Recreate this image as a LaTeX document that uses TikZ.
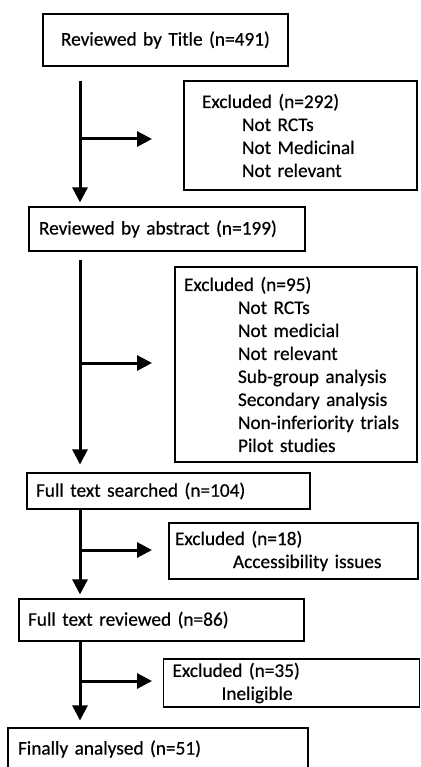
\documentclass[tikz,border=0pt]{standalone}
\usepackage{fontspec}
\setmainfont[FakeBold=0.5]{Carlito}
\usetikzlibrary{arrows.meta, positioning}

\begin{document}
\begin{tikzpicture}[x=1pt,y=-1pt]
  \tikzstyle{stage}=[draw,line width=1.2pt,align=left,inner ysep=0pt,font=\fontsize{19.3}{23}\selectfont]
  \tikzstyle{flow}=[line width=3pt,-{Triangle[length=15pt,width=15pt]}]

  \useasboundingbox (0,0) rectangle (420,767);

  % main stages
  \node[stage,minimum height=52pt,inner xsep=18pt,text width=209pt] (title)    at (165.5,40)  {Reviewed by Title (n=491)};
  \node[stage,minimum height=44pt,inner xsep=10pt,text width=256pt] (abstract) at (167,229)   {Reviewed by abstract (n=199)};
  \node[stage,minimum height=36pt,inner xsep=9pt, text width=265pt] (searched) at (168.5,491) {Full text searched (n=104)};
  \node[stage,minimum height=42pt,inner xsep=9pt, text width=267pt] (reviewed) at (161.5,620) {Full text reviewed (n=86)};
  \node[stage,minimum height=42pt,inner xsep=10pt,text width=280pt] (final)    at (158,749)   {Finally analysed (n=51)};

  % exclusions
  \node[stage,minimum height=109pt,inner xsep=18pt,text width=197pt] (ex_1) at (300.5,135.5)
    {Excluded (n=292)\\\hspace*{40pt}Not RCTs\\\hspace*{40pt}Not Medicinal\\\hspace*{40pt}Not relevant};
  \node[stage,minimum height=195pt,inner xsep=9pt,text width=224pt] (ex_2) at (296,364.5)
    {Excluded (n=95)\\\hspace*{54pt}Not RCTs\\\hspace*{54pt}Not medicial\\\hspace*{54pt}Not relevant\\
     \hspace*{54pt}Sub-group analysis\\\hspace*{54pt}Secondary analysis\\\hspace*{54pt}Non-inferiority trials\\
     \hspace*{54pt}Pilot studies};
  \node[stage,minimum height=56pt,inner xsep=6pt,text width=237pt] (ex_3) at (293.5,551)
    {Excluded (n=18)\\\hspace*{58pt}Accessibility issues};
  \node[stage,minimum height=48pt,inner xsep=9pt,text width=238pt] (ex_4) at (291.5,683)
    {Excluded (n=35)\\\hspace*{49pt}Ineligible};

  % trunk tops and branch ends
  \coordinate (t_1) at (80,81);
  \coordinate (t_2) at (80,260);
  \coordinate (t_3) at (80,509);
  \coordinate (t_4) at (80,641);
  \coordinate (b_1) at (152,139);
  \coordinate (b_2) at (152,363);
  \coordinate (b_3) at (152,550);
  \coordinate (b_4) at (152,681);

  \draw[flow,shorten >=4pt] (t_1) -- (t_1 |- abstract.north);
  \draw[flow,shorten >=8pt] (t_2) -- (t_2 |- searched.north);
  \draw[flow,shorten >=4pt] (t_3) -- (t_3 |- reviewed.north);
  \draw[flow,shorten >=7pt] (t_4) -- (t_4 |- final.north);

  \draw[flow] (b_1 -| t_1) -- (b_1);
  \draw[flow] (b_2 -| t_2) -- (b_2);
  \draw[flow] (b_3 -| t_3) -- (b_3);
  \draw[flow] (b_4 -| t_4) -- (b_4);
\end{tikzpicture}
\end{document}
